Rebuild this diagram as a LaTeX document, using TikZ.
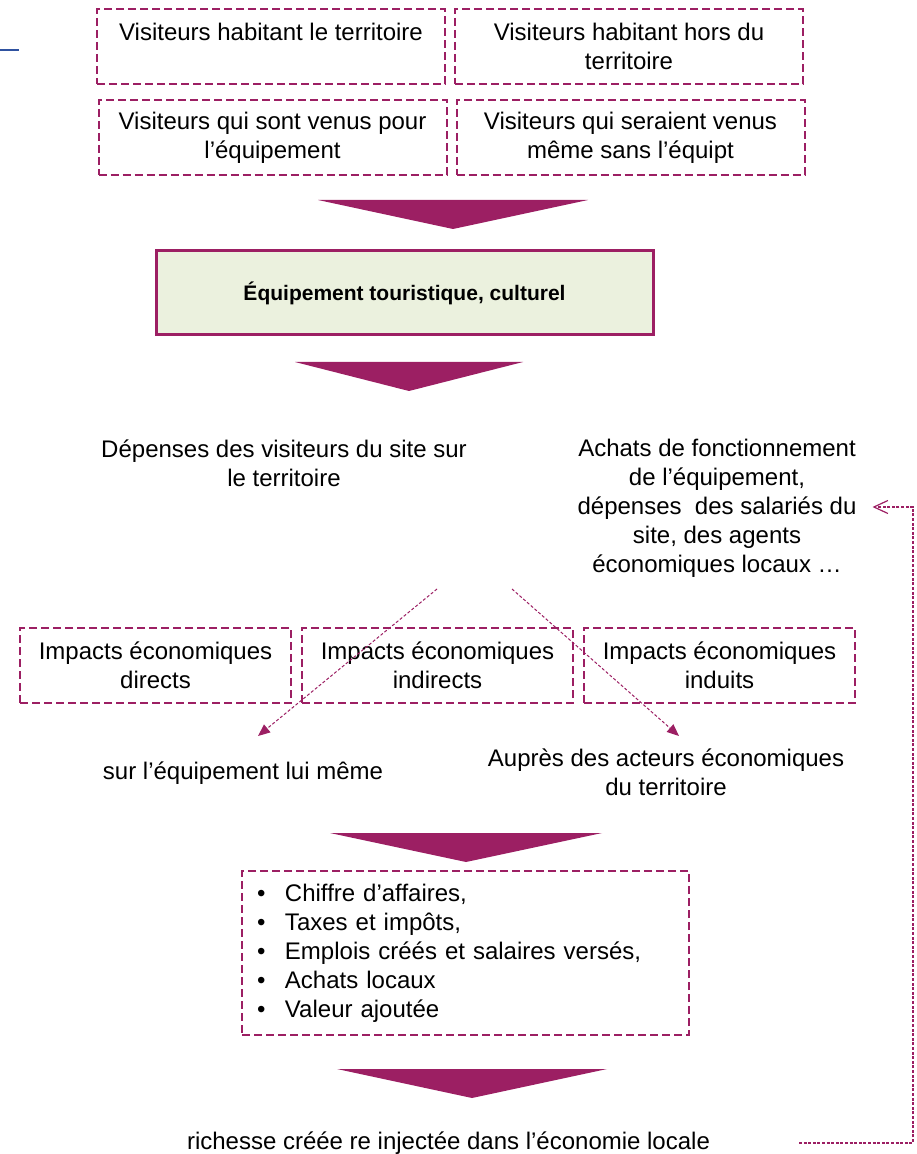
\documentclass[tikz,border=0pt]{standalone}
\usepackage{fontspec}
\setmainfont{Liberation Sans}
\usepackage{tikz}
\usetikzlibrary{positioning, calc, arrows.meta}
\definecolor{prune}{RGB}{156,31,99}
\definecolor{vertpale}{RGB}{235,241,222}
\definecolor{bleutrait}{RGB}{47,82,160}
\newcommand{\flechebas}[3]{\fill[prune] (#1-#3,#2) -- (#1+#3,#2) -- (#1,#2+29) -- cycle;}

\begin{document}
\begin{tikzpicture}[x=0.5pt, y=-0.5pt,
		every node/.style={font=\fontsize{12}{14.5}\selectfont, align=center},
		cadre/.style={draw=prune, line width=1pt, dash pattern=on 4pt off 2pt, minimum height=37.5pt, inner sep=0pt},
		visit/.style={cadre, minimum width=174pt},
		impact/.style={cadre, minimum width=135.5pt},
		fleche/.style={prune, line width=0.5pt, dash pattern=on 1.5pt off 1pt, -{Triangle[length=6pt,width=5pt]}},
		retour/.style={prune, line width=0.6pt, dash pattern=on 1.5pt off 0.8pt, -{Straight Barb[length=7pt,width=6.5pt]}}]
		\useasboundingbox (0,0) rectangle (916,1154);
		\draw[bleutrait, line width=1pt] (0,50) -- (19,50);

		\node[visit] (vhab) at (271,46.5) {Visiteurs habitant le territoire\\~};
		\node[visit, right=4pt of vhab] (vhors) {Visiteurs habitant hors du\\territoire};
		\node[visit] (vpour) at (272.5,137.5) {Visiteurs qui sont venus pour\\l’équipement};
		\node[visit, right=4pt of vpour] (vsans) {Visiteurs qui seraient venus\\même sans l’équipt};
		\flechebas{453}{200}{135}

		\node[draw=prune, line width=1.5pt, fill=vertpale, minimum width=248.5pt, minimum height=42pt,
			font=\bfseries\fontsize{10.5}{13}\selectfont] (equip) at (404.5,293) {Équipement touristique, culturel};
		\flechebas{409}{362}{114}

		\node (depenses) at (284,463.5) {Dépenses des visiteurs du site sur\\le territoire};
		\node (achats) at (717,508) {Achats de fonctionnement\\de l’équipement,\\dépenses~~des salariés du\\site, des agents\\économiques locaux …};

		\node[impact] (imdir) at (155.5,665.5) {Impacts économiques\\directs};
		\node[impact, right=4.5pt of imdir] (imind) {Impacts économiques\\indirects};
		\node[impact, right=4.5pt of imind] (iminduits) {Impacts économiques\\induits};

		\node (surequip) at (243,773) {sur l’équipement lui même};
		\node (aupres) at (666,772.5) {Auprès des acteurs économiques\\du territoire};
		\coordinate (depart1) at (437,589);
		\coordinate (depart2) at (512,589);
		\coordinate (fin1) at (258,736);
		\coordinate (fin2) at (679,736);
		\draw[fleche] (depart1) -- (fin1);
		\draw[fleche] (depart2) -- (fin2);
		\flechebas{466}{833}{136}

		\node[cadre, minimum width=223.5pt, minimum height=82pt, inner xsep=7.5pt, text width=208.5pt, align=left] (bilan) at (465.5,953)
		{\makebox[14pt][l]{\textbullet}Chiffre d’affaires,\\
			\makebox[14pt][l]{\textbullet}Taxes et impôts,\\
			\makebox[14pt][l]{\textbullet}Emplois créés et salaires versés,\\
			\makebox[14pt][l]{\textbullet}Achats locaux\\
			\makebox[14pt][l]{\textbullet}Valeur ajoutée};
		\flechebas{472}{1069}{135}

		\node (richesse) at (448.5,1143) {richesse créée re injectée dans l’économie locale};
		\coordinate (coin) at (913,507);
		\draw[retour] ([xshift=41pt]richesse.east) -| (coin) -- ([xshift=4.5pt]achats.east |- coin);
	\end{tikzpicture}
\end{document}
